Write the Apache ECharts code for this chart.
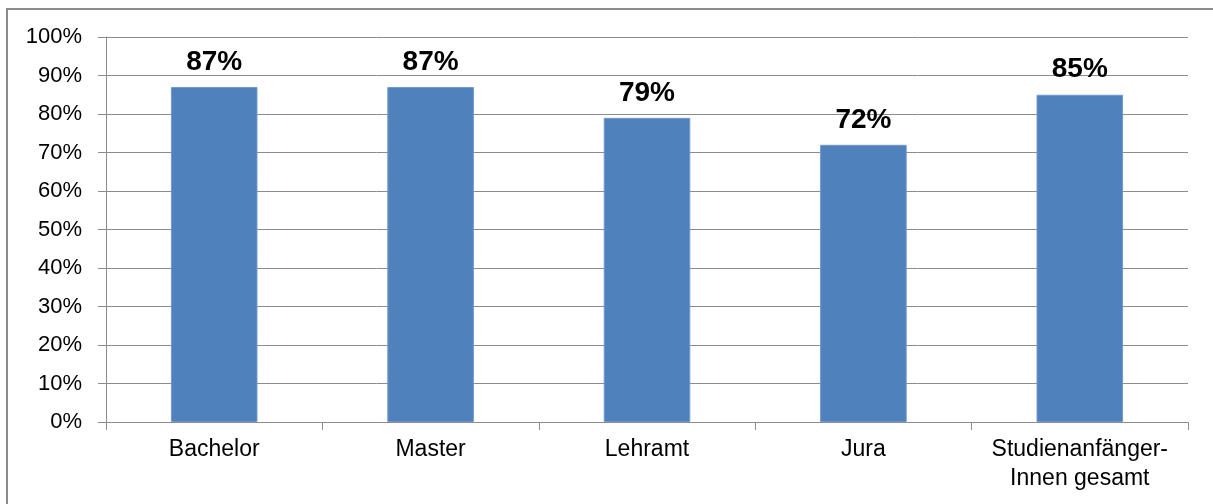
<!DOCTYPE html>
<html>
<head>
<meta charset="utf-8">
<script src="https://cdn.jsdelivr.net/npm/echarts@6/dist/echarts.min.js"></script>
<style>
  html, body { margin: 0; padding: 0; background: #fff; }
  #frame { position: absolute; left: 6px; top: 8px; width: 1220px; height: 520px; border: 2px solid #8c8c8c; box-sizing: border-box; }
  #chart { position: absolute; left: 0; top: 0; width: 1213px; height: 504px; }
</style>
</head>
<body>
<div id="frame"></div>
<div id="chart"></div>
<script>
const categories = ['Bachelor', 'Master', 'Lehramt', 'Jura', 'Studienanfänger-\nInnen gesamt'];
const shares = [87, 87, 79, 72, 85];
const yTicks = [0, 10, 20, 30, 40, 50, 60, 70, 80, 90, 100];

const chart = echarts.init(document.getElementById('chart'), null, { renderer: 'canvas' });
chart.setOption({
  animation: false,
  grid: { left: 106, right: 25, top: 37, bottom: 82, containLabel: false },
  xAxis: {
    type: 'category',
    data: categories,
    axisLine: { lineStyle: { color: '#8c8c8c', width: 1 } },
    axisTick: { show: true, interval: 0, alignWithLabel: false, length: 8, lineStyle: { color: '#8c8c8c' } },
    axisLabel: { interval: 0, hideOverlap: false, color: '#000', fontFamily: 'Liberation Sans, Arial', fontSize: 23, margin: 13, lineHeight: 29 }
  },
  yAxis: {
    type: 'value',
    min: yTicks[0],
    max: yTicks[yTicks.length - 1],
    interval: 10,
    axisLine: { show: true, lineStyle: { color: '#8c8c8c' } },
    axisTick: { show: true, length: 8, lineStyle: { color: '#8c8c8c' } },
    splitLine: { lineStyle: { color: '#8c8c8c', width: 1 } },
    axisLabel: { color: '#000', fontFamily: 'Liberation Sans, Arial', fontSize: 22, margin: 24, formatter: v => v + '%' }
  },
  series: [{
    type: 'bar',
    data: shares,
    barWidth: '40%',
    itemStyle: { color: '#4f81bd', borderColor: '#6f98cc', borderWidth: 1 },
    label: {
      show: true,
      position: 'top',
      distance: 11,
      color: '#000',
      fontFamily: 'Liberation Sans, Arial',
      fontWeight: 'bold',
      fontSize: 28,
      formatter: p => p.value + '%'
    }
  }]
});
</script>
</body>
</html>
